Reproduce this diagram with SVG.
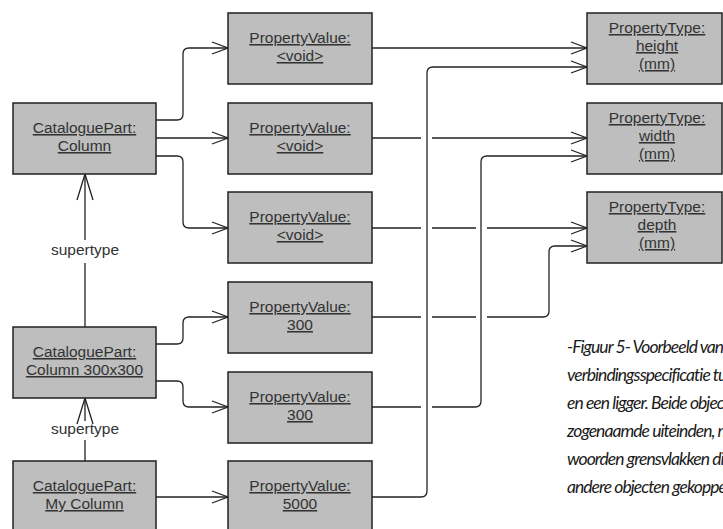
<svg xmlns="http://www.w3.org/2000/svg" width="723" height="529" viewBox="0 0 723 529">
  <style>
    .box { fill: #bebebe; stroke: #222; stroke-width: 1.5; }
    .lbl { font-family: "Liberation Sans", Arial, sans-serif; font-size: 15.5px; fill: #333; text-anchor: middle; text-decoration: underline; }
    .role { font-family: "Liberation Sans", Arial, sans-serif; font-size: 15.5px; fill: #333; text-anchor: middle; }
    .wire { fill: none; stroke: #222; stroke-width: 1.3; }
    .cap { font-family: "Lato", "Open Sans", sans-serif; font-style: italic; font-size: 17.5px; letter-spacing: -0.95px; fill: #1a1a1a; }
  </style>
  <defs>
    <marker id="open" markerUnits="userSpaceOnUse" markerWidth="20" markerHeight="16" viewBox="-18 -8 20 16" refX="0" refY="0" orient="auto">
      <path d="M-16,-6 L0,0 L-16,6" fill="none" stroke="#222" stroke-width="1.3"/>
    </marker>
    <marker id="super" markerUnits="userSpaceOnUse" markerWidth="30" markerHeight="20" viewBox="-28 -10 30 20" refX="0" refY="0" orient="auto">
      <path d="M-26,-8 L0,0 L-26,8" fill="none" stroke="#222" stroke-width="1.3"/>
    </marker>
  </defs>

  <g id="connectors">
    <!-- part to value links -->
    <path class="wire" marker-end="url(#open)" d="M156,120 H177 Q183,120 183,114 V54 Q183,48 189,48 H228"/>
    <path class="wire" marker-end="url(#open)" d="M156,138 H228"/>
    <path class="wire" marker-end="url(#open)" d="M156,156 H177 Q183,156 183,162 V222 Q183,228 189,228 H228"/>
    <path class="wire" marker-end="url(#open)" d="M156,344 H177 Q183,344 183,338 V323 Q183,317 189,317 H228"/>
    <path class="wire" marker-end="url(#open)" d="M156,381 H177 Q183,381 183,387 V401 Q183,407 189,407 H228"/>
    <path class="wire" marker-end="url(#open)" d="M156,497 H228"/>
    <!-- supertype links -->
    <path class="wire" d="M85,327 V263"/>
    <path class="wire" marker-end="url(#super)" d="M85,240 V174"/>
    <path class="wire" d="M85,461 V440"/>
    <path class="wire" marker-end="url(#super)" d="M85,421 V398"/>
    <text class="role" x="85" y="255">supertype</text>
    <text class="role" x="85" y="434">supertype</text>
    <!-- value to type links, with line jumps at crossings -->
    <path class="wire" marker-end="url(#open)" d="M372,48 H587"/>
    <path class="wire" marker-end="url(#open)" d="M372,497 H421 Q427,497 427,491 V73 Q427,67 433,67 H587"/>
    <path class="wire" marker-end="url(#open)" d="M372,138 H421 M432,138 H587"/>
    <path class="wire" marker-end="url(#open)" d="M372,407 H421 M432,407 H475 Q481,407 481,401 V162 Q481,156 487,156 H587"/>
    <path class="wire" marker-end="url(#open)" d="M372,228 H421 M432,228 H476 M487,228 H587"/>
    <path class="wire" marker-end="url(#open)" d="M372,317 H421 M432,317 H476 M487,317 H543 Q549,317 549,311 V252 Q549,246 555,246 H587"/>
  </g>

  <g id="cp-column">
    <rect class="box" x="13" y="103" width="143" height="71"/>
    <text class="lbl" x="84.5" y="133">CataloguePart:</text>
    <text class="lbl" x="84.5" y="151">Column</text>
  </g>
  <g id="cp-column-300">
    <rect class="box" x="13" y="327" width="143" height="71"/>
    <text class="lbl" x="84.5" y="357">CataloguePart:</text>
    <text class="lbl" x="84.5" y="375">Column 300x300</text>
  </g>
  <g id="cp-my-column">
    <rect class="box" x="13" y="461" width="143" height="71"/>
    <text class="lbl" x="84.5" y="491">CataloguePart:</text>
    <text class="lbl" x="84.5" y="509">My Column</text>
  </g>

  <g id="pv-1">
    <rect class="box" x="228" y="13" width="144" height="71"/>
    <text class="lbl" x="300" y="43">PropertyValue:</text>
    <text class="lbl" x="300" y="61">&lt;void&gt;</text>
  </g>
  <g id="pv-2">
    <rect class="box" x="228" y="103" width="144" height="71"/>
    <text class="lbl" x="300" y="133">PropertyValue:</text>
    <text class="lbl" x="300" y="151">&lt;void&gt;</text>
  </g>
  <g id="pv-3">
    <rect class="box" x="228" y="192" width="144" height="71"/>
    <text class="lbl" x="300" y="222">PropertyValue:</text>
    <text class="lbl" x="300" y="240">&lt;void&gt;</text>
  </g>
  <g id="pv-4">
    <rect class="box" x="228" y="282" width="144" height="71"/>
    <text class="lbl" x="300" y="312">PropertyValue:</text>
    <text class="lbl" x="300" y="330">300</text>
  </g>
  <g id="pv-5">
    <rect class="box" x="228" y="372" width="144" height="71"/>
    <text class="lbl" x="300" y="402">PropertyValue:</text>
    <text class="lbl" x="300" y="420">300</text>
  </g>
  <g id="pv-6">
    <rect class="box" x="228" y="461" width="144" height="71"/>
    <text class="lbl" x="300" y="491">PropertyValue:</text>
    <text class="lbl" x="300" y="509">5000</text>
  </g>

  <g id="pt-height">
    <rect class="box" x="587" y="13" width="135" height="71"/>
    <text class="lbl" x="657" y="33">PropertyType:</text>
    <text class="lbl" x="657" y="51">height</text>
    <text class="lbl" x="657" y="69">(mm)</text>
  </g>
  <g id="pt-width">
    <rect class="box" x="587" y="103" width="135" height="71"/>
    <text class="lbl" x="657" y="123">PropertyType:</text>
    <text class="lbl" x="657" y="141">width</text>
    <text class="lbl" x="657" y="159">(mm)</text>
  </g>
  <g id="pt-depth">
    <rect class="box" x="587" y="192" width="135" height="71"/>
    <text class="lbl" x="657" y="212">PropertyType:</text>
    <text class="lbl" x="657" y="230">depth</text>
    <text class="lbl" x="657" y="248">(mm)</text>
  </g>

  <g id="caption">
    <text class="cap" x="567" y="353">-Figuur 5- Voorbeeld van e</text>
    <text class="cap" x="567" y="381">verbindingsspecificatie tu</text>
    <text class="cap" x="567" y="409">en een ligger. Beide objec</text>
    <text class="cap" x="567" y="437">zogenaamde uiteinden, m</text>
    <text class="cap" x="567" y="465">woorden grensvlakken die</text>
    <text class="cap" x="567" y="493">andere objecten gekoppe</text>
  </g>
</svg>
